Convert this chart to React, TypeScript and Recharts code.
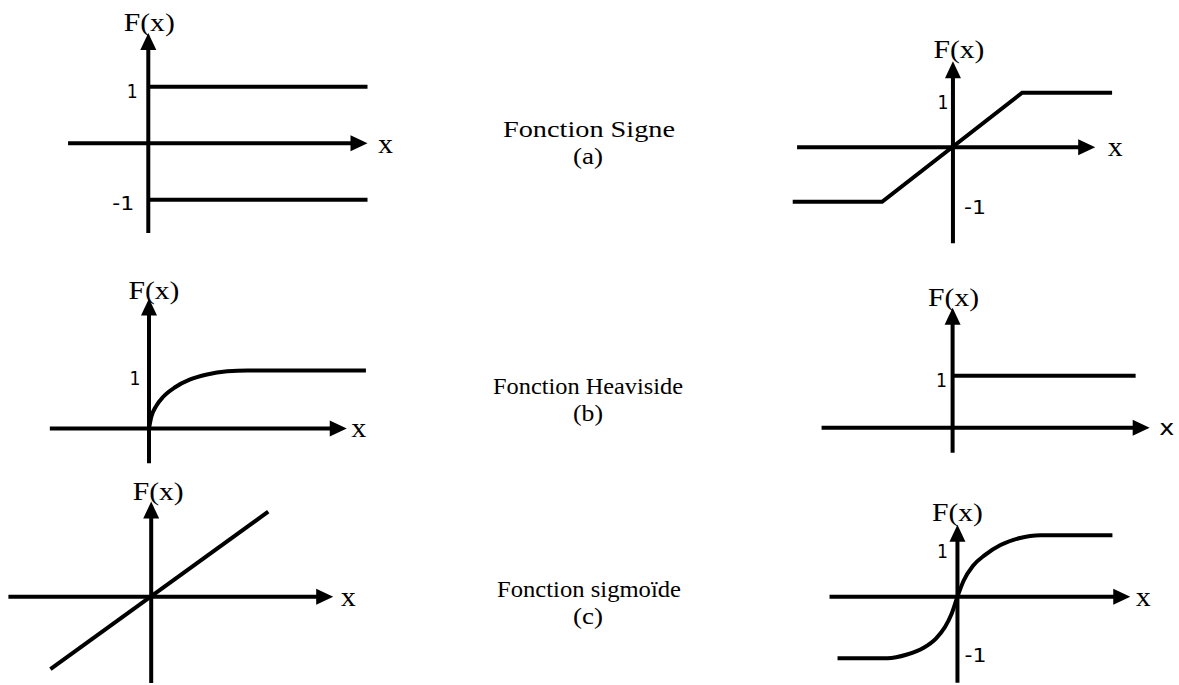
import { LineChart, Line, XAxis, YAxis, ReferenceLine, ReferenceDot } from 'recharts'

// values in axis units (1 = the "1" level of each panel)
const signX = [0, 3.88]
const signHigh = [1, 1]
const signLow = [-1, -1]

const rampX = [-2.94, -1.3, 1.27, 2.92]
const rampY = [-1, -1, 1, 1]

const satX = [0, 0.04, 0.12, 0.25, 0.45, 0.7, 1.0, 1.35, 1.7, 3.74]
const satY = [0, 0.2, 0.38, 0.55, 0.71, 0.84, 0.93, 0.985, 1, 1]

const stepX = [0, 3.52]
const stepY = [1, 1]

const linX = [-1.8, 2.09]
const linY = [-1.29, 1.52]

const tanhX = [-1.95, -1.14, -0.82, -0.55, -0.35, -0.2, -0.1, 0, 0.1, 0.25, 0.45, 0.7, 1.0, 1.35, 2.52]
const tanhY = [-1, -1, -0.94, -0.83, -0.68, -0.49, -0.29, 0, 0.26, 0.5, 0.68, 0.84, 0.95, 1, 1]

const titles = ['Fonction Signe', 'Fonction Heaviside', 'Fonction sigmoïde']
const letters = ['(a)', '(b)', '(c)']

const SERIF = '"Liberation Serif", "Times New Roman", serif'
const SANS = '"DejaVu Sans", Verdana, sans-serif'
const INK = '#000'

const pts = (xs: number[], ys: number[]) => xs.map((x, i) => ({ x, y: ys[i] }))

type Tick = { v: number; label: string; dx: number; dy: number }

interface PanelProps {
  ox: number
  oy: number
  u: number
  xDom: [number, number]
  yDom: [number, number]
  axisX: [number, number]
  axisY: [number, number]
  series: { data: { x: number; y: number }[]; curve?: boolean }[]
  ticks: Tick[]
  fx: [number, number]
  xl: [number, number]
  xSans?: boolean
}

function arrow(p: any, label: string, ldx: number, ldy: number, sans: boolean, isY: boolean) {
  const { x1, y1, x2, y2 } = p
  const d = Math.hypot(x2 - x1, y2 - y1) || 1
  const ux = (x2 - x1) / d
  const uy = (y2 - y1) / d
  const bx = x2 - ux * 17
  const by = y2 - uy * 17
  const px = -uy * 8
  const py = ux * 8
  return (
    <g>
      <line x1={x1} y1={y1} x2={bx + ux} y2={by + uy} stroke={INK} strokeWidth={4} />
      <polygon points={`${x2},${y2} ${bx + px},${by + py} ${bx - px},${by - py}`} fill={INK} />
      <text
        x={x2 + ldx}
        y={y2 + ldy}
        textAnchor="middle"
        dominantBaseline="central"
        fontFamily={sans ? SANS : SERIF}
        fontSize={isY ? 25 : sans ? 22 : 27}
        textLength={isY ? 51 : 15}
        lengthAdjust="spacingAndGlyphs"
        fill={INK}
      >
        {label}
      </text>
    </g>
  )
}

function Panel({ ox, oy, u, xDom, yDom, axisX, axisY, series, ticks, fx, xl, xSans }: PanelProps) {
  const left = ox + xDom[0] * u
  const top = oy - yDom[1] * u
  const width = (xDom[1] - xDom[0]) * u
  const height = (yDom[1] - yDom[0]) * u
  return (
    <div style={{ position: 'absolute', left, top, width, height }}>
      <LineChart width={width} height={height} margin={{ top: 0, right: 0, bottom: 0, left: 0 }}>
        <XAxis type="number" dataKey="x" domain={xDom} allowDataOverflow hide />
        <YAxis type="number" dataKey="y" domain={yDom} allowDataOverflow hide />
        <ReferenceLine
          segment={[{ x: axisX[0], y: 0 }, { x: axisX[1], y: 0 }]}
          shape={(p: any) => arrow(p, 'x', xl[0], xl[1], !!xSans, false)}
        />
        <ReferenceLine
          segment={[{ x: 0, y: axisY[0] }, { x: 0, y: axisY[1] }]}
          shape={(p: any) => arrow(p, 'F(x)', fx[0], fx[1], false, true)}
        />
        {series.map((s, i) => (
          <Line
            key={i}
            data={s.data}
            dataKey="y"
            type={s.curve ? 'monotone' : 'linear'}
            stroke={INK}
            strokeWidth={4}
            dot={false}
            activeDot={false}
            isAnimationActive={false}
          />
        ))}
        {ticks.map(t => (
          <ReferenceDot
            key={t.label}
            x={0}
            y={t.v}
            r={0}
            shape={(p: any) => (
              <text
                x={p.cx + t.dx}
                y={p.cy + t.dy}
                textAnchor="middle"
                dominantBaseline="central"
                fontFamily={SANS}
                fontSize={19}
                textLength={t.label.length > 1 ? 22 : 11}
                lengthAdjust="spacingAndGlyphs"
                fill={INK}
              >
                {t.label}
              </text>
            )}
          />
        ))}
      </LineChart>
    </div>
  )
}

export default function App() {
  // left edge, width and baseline of each title, baseline of each letter
  const titleX = [503, 493, 497]
  const titleW = [172, 190, 184]
  const titleY = [137, 394, 597]
  const letterY = [164, 421, 624]
  return (
    <div style={{ position: 'absolute', left: 0, top: 0, width: 1179, height: 685, overflow: 'hidden', background: '#fff' }}>
      <svg width={1179} height={685} style={{ position: 'absolute', left: 0, top: 0 }}>
        {titles.map((t, i) => (
          <g key={t}>
            <text
              x={titleX[i]}
              y={titleY[i]}
              fontFamily={SERIF}
              fontSize={23}
              textLength={titleW[i]}
              lengthAdjust="spacingAndGlyphs"
              fill={INK}
            >
              {t}
            </text>
            <text
              x={588}
              y={letterY[i]}
              textAnchor="middle"
              fontFamily={SERIF}
              fontSize={23}
              textLength={30}
              lengthAdjust="spacingAndGlyphs"
              fill={INK}
            >
              {letters[i]}
            </text>
          </g>
        ))}
      </svg>

      <Panel
        ox={148} oy={143} u={56.5}
        xDom={[-2.2, 4.6]} yDom={[-1.9, 2.5]}
        axisX={[-1.42, 3.88]} axisY={[-1.59, 1.95]}
        series={[{ data: pts(signX, signHigh) }, { data: pts(signX, signLow) }]}
        ticks={[{ v: 1, label: '1', dx: -16, dy: 4 }, { v: -1, label: '-1', dx: -25, dy: 3 }]}
        fx={[1, -11]} xl={[18, 1]}
      />
      <Panel
        ox={953} oy={147} u={54.5}
        xDom={[-3.1, 3.3]} yDom={[-2.0, 2.5]}
        axisX={[-2.86, 2.61]} axisY={[-1.76, 1.58]}
        series={[{ data: pts(rampX, rampY) }]}
        ticks={[{ v: 1, label: '1', dx: -10, dy: 9 }, { v: -1, label: '-1', dx: 22, dy: 5 }]}
        fx={[6, -12]} xl={[20, 0]}
      />
      <Panel
        ox={149} oy={428} u={58}
        xDom={[-2.0, 4.0]} yDom={[-0.8, 2.8]}
        axisX={[-1.71, 3.41]} axisY={[-0.6, 2.24]}
        series={[{ data: pts(satX, satY), curve: true }]}
        ticks={[{ v: 1, label: '1', dx: -14, dy: 8 }]}
        fx={[5, -8]} xl={[12, 0]}
      />
      <Panel
        ox={953} oy={428} u={52}
        xDom={[-2.8, 4.5]} yDom={[-0.7, 2.9]}
        axisX={[-2.52, 3.79]} axisY={[-0.48, 2.31]}
        series={[{ data: pts(stepX, stepY) }]}
        ticks={[{ v: 1, label: '1', dx: -11, dy: 4 }]}
        fx={[1, -10]} xl={[17, 0]} xSans
      />
      <Panel
        ox={151} oy={597} u={56}
        xDom={[-2.7, 3.9]} yDom={[-1.6, 2.3]}
        axisX={[-2.55, 3.25]} axisY={[-1.54, 1.7]}
        series={[{ data: pts(linX, linY) }]}
        ticks={[]}
        fx={[7, -10]} xl={[15, 0]}
      />
      <Panel
        ox={957} oy={597} u={61.5}
        xDom={[-2.3, 3.4]} yDom={[-1.5, 1.8]}
        axisX={[-2.08, 2.81]} axisY={[-1.4, 1.17]}
        series={[{ data: pts(tanhX, tanhY), curve: true }]}
        ticks={[{ v: 1, label: '1', dx: -15, dy: 16 }, { v: -1, label: '-1', dx: 18, dy: -3 }]}
        fx={[0, -12]} xl={[13, 0]}
      />
    </div>
  )
}
